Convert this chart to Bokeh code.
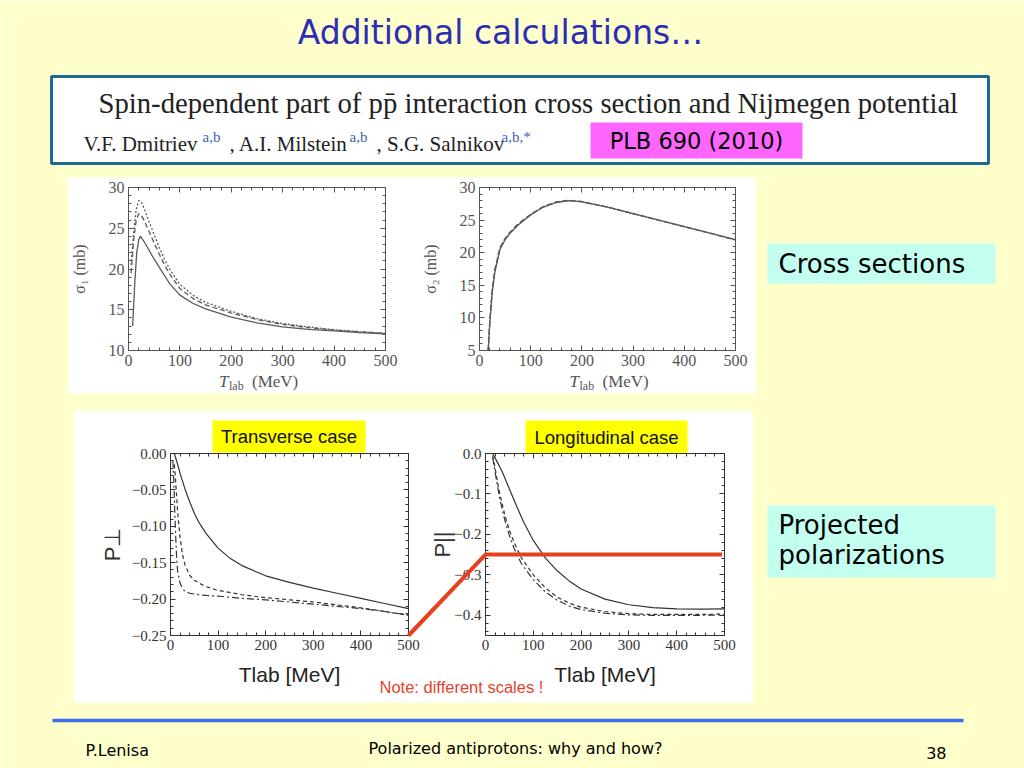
import numpy as np
from bokeh.plotting import figure
from bokeh.models import Range1d, LinearAxis, FixedTicker, CustomJSTickFormatter
from bokeh.core.properties import value
from bokeh.embed import file_html
from bokeh.resources import INLINE

# ---------------- data ----------------
x_ticks = [0, 100, 200, 300, 400, 500]
sig1_yticks = [10, 15, 20, 25, 30]
sig2_yticks = [5, 10, 15, 20, 25, 30]
pt_yticks = [0.0, -0.05, -0.10, -0.15, -0.20, -0.25]
pl_yticks = [0.0, -0.1, -0.2, -0.3, -0.4]

# sigma_1 (mb)
sig1_T_solid = [8, 12, 16, 20, 23, 30, 40, 50, 60, 70, 80, 100, 125, 150, 200, 250, 300, 350, 400, 450, 500]
sig1_solid = [13.0, 18.0, 22.0, 23.6, 24.0, 23.4, 22.3, 21.2, 20.2, 19.2, 18.2, 16.8, 15.8, 15.1, 14.1, 13.4, 12.9, 12.6, 12.4, 12.2, 12.05]
sig1_T = [5, 10, 15, 20, 25, 30, 40, 50, 60, 70, 80, 100, 125, 150, 200, 250, 300, 350, 400, 450, 500]
sig1_dash = [19.5, 23.5, 26.0, 26.8, 26.6, 26.0, 24.6, 23.2, 21.8, 20.5, 19.4, 17.6, 16.4, 15.6, 14.6, 13.8, 13.2, 12.8, 12.5, 12.3, 12.1]
sig1_dot = [20.5, 24.5, 27.3, 28.4, 28.2, 27.5, 25.8, 24.2, 22.6, 21.2, 20.0, 18.1, 16.8, 15.9, 14.8, 13.9, 13.3, 12.9, 12.55, 12.3, 12.1]

# sigma_2 (mb)
sig2_T = [17, 20, 25, 30, 40, 50, 60, 75, 100, 125, 150, 175, 200, 250, 300, 350, 400, 450, 500]
sig2_solid = [5.0, 9.0, 14.0, 17.0, 20.5, 22.0, 23.0, 24.2, 25.8, 27.0, 27.7, 28.0, 27.8, 27.0, 26.0, 25.0, 24.0, 23.0, 22.0]
sig2_dash = [5.0, 9.5, 14.5, 17.5, 20.8, 22.2, 23.2, 24.4, 25.9, 27.1, 27.8, 28.05, 27.85, 27.0, 26.0, 25.0, 24.0, 23.0, 21.95]
sig2_dot = [5.0, 9.3, 14.3, 17.3, 20.7, 22.1, 23.1, 24.3, 25.85, 27.05, 27.75, 28.02, 27.82, 27.0, 26.0, 25.0, 24.0, 23.0, 21.97]

# transverse polarization P_perp
pt_T_solid = [8, 15, 20, 30, 40, 50, 60, 75, 100, 125, 150, 200, 250, 300, 350, 400, 450, 500]
pt_solid = [0.0, -0.015, -0.027, -0.048, -0.066, -0.082, -0.095, -0.110, -0.130, -0.144, -0.154, -0.168, -0.177, -0.185, -0.192, -0.199, -0.206, -0.213]
pt_T_dash = [8, 10, 12, 15, 20, 25, 30, 40, 50, 60, 75, 100, 150, 200, 250, 300, 350, 400, 450, 500]
pt_dash = [-0.015, -0.03, -0.05, -0.08, -0.115, -0.138, -0.152, -0.167, -0.174, -0.178, -0.183, -0.188, -0.194, -0.198, -0.201, -0.204, -0.208, -0.212, -0.217, -0.222]
pt_T_dd = [5, 7, 9, 11, 13, 15, 20, 25, 30, 40, 50, 60, 75, 100, 150, 200, 250, 300, 350, 400, 450, 500]
pt_dd = [-0.01, -0.04, -0.08, -0.115, -0.145, -0.162, -0.178, -0.185, -0.189, -0.192, -0.193, -0.194, -0.195, -0.196, -0.199, -0.201, -0.204, -0.207, -0.210, -0.213, -0.217, -0.222]

# longitudinal polarization P_par
pl_T_solid = [15, 25, 35, 50, 65, 80, 100, 125, 150, 175, 200, 250, 300, 350, 400, 450, 500]
pl_solid = [0.0, -0.022, -0.045, -0.088, -0.130, -0.170, -0.215, -0.258, -0.290, -0.315, -0.335, -0.360, -0.374, -0.381, -0.384, -0.385, -0.384]
pl_T = [15, 20, 25, 30, 40, 50, 60, 75, 100, 125, 150, 175, 200, 250, 300, 350, 400, 450, 500]
pl_dash = [-0.005, -0.035, -0.07, -0.10, -0.15, -0.19, -0.22, -0.258, -0.300, -0.332, -0.355, -0.370, -0.380, -0.391, -0.396, -0.398, -0.398, -0.398, -0.397]
pl_dd = [-0.01, -0.045, -0.08, -0.112, -0.163, -0.203, -0.235, -0.272, -0.312, -0.342, -0.363, -0.377, -0.386, -0.395, -0.399, -0.400, -0.400, -0.400, -0.399]

ref_level = -0.25  # marked level ("different scales")

# ---------------- layout (slide pixel coordinates) ----------------
W, H = 1024, 768
OX, OY = 0, 0

BG = "#FFFFCC"
p = figure(width=W, height=H, x_range=Range1d(OX, OX + W), y_range=Range1d(OY + H, OY),
           x_axis_type=None, y_axis_type=None, toolbar_location=None, output_backend="svg",
           min_border=0, title=None, outline_line_color=None,
           background_fill_color=BG, border_fill_color=BG)


def txt(x, y, s, size, font, color="#000000", align="left", baseline="middle", style="normal"):
    p.text(x=[x], y=[y], text=[s], text_font=value(font), text_font_size=value(size),
           text_color=color, text_align=align, text_baseline=baseline, text_font_style=style)


def box(l, r, t, b, fill, line=None, lw=1):
    p.quad(left=[l], right=[r], top=[t], bottom=[b], fill_color=fill,
           line_color=line, line_width=lw)


COMIC = "DejaVu Sans"
SERIF = "Liberation Serif"
SANS = "Liberation Sans"

# title
txt(500, 32, "Additional calculations\u2026", "33px", COMIC, "#2D2DB4", align="center")

# paper header
box(51, 988, 76, 163, "white", "#1B6A98", 3)
txt(98, 102, "Spin-dependent part of p\u0070\u0304 interaction cross section and Nijmegen potential",
    "28.7px", SERIF, "#222222")
authors = [(83, "V.F. Dmitriev", False), (202, "a,b", True), (229, ", A.I. Milstein", False),
           (349, "a,b", True), (376, ", S.G. Salnikov", False), (501, "a,b,*", True)]
for ax_, s, sup in authors:
    if sup:
        txt(ax_, 136, s, "15px", SERIF, "#3A64B0")
    else:
        txt(ax_, 143, s, "21px", SERIF, "#222222")
box(590, 802, 122, 158, "#FF66FF")
txt(696, 140, "PLB 690 (2010)", "22.5px", COMIC, "#000000", align="center")

# white panels
box(68, 755, 177, 393, "white")
box(73, 752, 410, 702, "white")

# right-hand labels
box(767, 995, 243, 283, "#C2FFF0")
txt(778, 263, "Cross sections", "26px", COMIC)
box(767, 995, 505, 577, "#C2FFF0")
txt(778, 524, "Projected", "26px", COMIC)
txt(778, 554, "polarizations", "26px", COMIC)

# footer
p.segment(x0=[52], y0=[720], x1=[963], y1=[720], line_color="#3A6FE8", line_width=3.5)
txt(85, 750, "P.Lenisa", "16px", COMIC)
txt(515, 748, "Polarized antiprotons: why and how?", "16px", COMIC, align="center")
txt(946, 752, "38", "16px", COMIC, align="right")

# ---------------- subplots ----------------
S1 = dict(name="s1", box=(128, 385, 187, 350), xlim=(0, 500), ylim=(10, 30))
S2 = dict(name="s2", box=(479, 735, 187, 350), xlim=(0, 500), ylim=(5, 30))
P1 = dict(name="p1", box=(170, 408, 453, 635), xlim=(0, 500), ylim=(-0.25, 0.0))
P2 = dict(name="p2", box=(485, 724, 453, 635), xlim=(0, 500), ylim=(-0.45, 0.0))

extra_x, extra_y = {}, {}
for S in (S1, S2, P1, P2):
    L, R, T, B = S["box"]
    x0, x1 = S["xlim"]
    y0, y1 = S["ylim"]
    kx = (x1 - x0) / (R - L)
    ky = (y1 - y0) / (B - T)
    extra_x[S["name"] + "x"] = Range1d(x0 - (L - OX) * kx, x0 + (OX + W - L) * kx)
    extra_y[S["name"] + "y"] = Range1d(y0 - (OY + H - B) * ky, y1 + (T - OY) * ky)
p.extra_x_ranges = extra_x
p.extra_y_ranges = extra_y


def to_slide(S, x, y):
    L, R, T, B = S["box"]
    x0, x1 = S["xlim"]
    y0, y1 = S["ylim"]
    return L + (x - x0) / (x1 - x0) * (R - L), B - (y - y0) / (y1 - y0) * (B - T)


def minors(lo, hi, step):
    n = int(round((hi - lo) / step))
    return [lo + i * step for i in range(n + 1)]


EMPTY = "return '';"


def frame(S, yticks, yminor, yfmt, color, font, size, ylabel, ylabel_font, ylabel_size,
          ylabel_standoff, xlabel=None, xlabel_standoff=10):
    nm = S["name"]
    x0, x1 = S["xlim"]
    y0, y1 = S["ylim"]
    common = dict(x_range_name=nm + "x", y_range_name=nm + "y",
                  axis_line_color=color, axis_line_width=1,
                  major_tick_line_color=color, minor_tick_line_color=color,
                  major_tick_in=5, major_tick_out=0, minor_tick_in=3, minor_tick_out=0,
                  major_label_text_font=font, major_label_text_font_size=size,
                  major_label_text_color=color, major_label_standoff=4)
    xmin = minors(x0, x1, 20)
    # left
    ax = LinearAxis(fixed_location=x0, bounds=(y0, y1),
                    ticker=FixedTicker(ticks=yticks, minor_ticks=yminor),
                    formatter=yfmt, axis_label=ylabel,
                    axis_label_text_font=ylabel_font, axis_label_text_font_size=ylabel_size,
                    axis_label_text_font_style="normal", axis_label_text_color=color,
                    axis_label_standoff=ylabel_standoff, **common)
    p.add_layout(ax, "left")
    # right
    ax = LinearAxis(fixed_location=x1, bounds=(y0, y1),
                    ticker=FixedTicker(ticks=yticks, minor_ticks=yminor),
                    formatter=CustomJSTickFormatter(code=EMPTY), **common)
    p.add_layout(ax, "right")
    # bottom
    kw = {}
    if xlabel:
        kw = dict(axis_label=xlabel, axis_label_text_font=SANS, axis_label_text_font_size="21px",
                  axis_label_text_font_style="normal", axis_label_text_color="#222222",
                  axis_label_standoff=xlabel_standoff)
    ax = LinearAxis(fixed_location=y0, bounds=(x0, x1),
                    ticker=FixedTicker(ticks=x_ticks, minor_ticks=xmin), **kw, **common)
    p.add_layout(ax, "below")
    # top
    ax = LinearAxis(fixed_location=y1, bounds=(x0, x1),
                    ticker=FixedTicker(ticks=x_ticks, minor_ticks=xmin),
                    formatter=CustomJSTickFormatter(code=EMPTY), **common)
    p.add_layout(ax, "above")


def curve(S, xs, ys, color, dash="solid", width=1.3):
    p.line(x=xs, y=ys, x_range_name=S["name"] + "x", y_range_name=S["name"] + "y",
           line_color=color, line_width=width, line_dash=dash)


GREY = "#5A5A5A"
DARK = "#333333"

# sigma_1
curve(S1, sig1_T, sig1_dot, GREY, "2 2")
curve(S1, sig1_T, sig1_dash, GREY, "5 3")
curve(S1, sig1_T_solid, sig1_solid, GREY)
frame(S1, sig1_yticks, minors(10, 30, 1), CustomJSTickFormatter(code="return tick.toFixed(0);"),
      "#555555", SERIF, "16px", "\u03c3\u2081 (mb)", SERIF, "16px", 18)
# sigma_2
curve(S2, sig2_T, sig2_dot, GREY, "2 2")
curve(S2, sig2_T, sig2_dash, GREY, "5 3")
curve(S2, sig2_T, sig2_solid, GREY)
frame(S2, sig2_yticks, minors(5, 30, 1), CustomJSTickFormatter(code="return tick.toFixed(0);"),
      "#555555", SERIF, "16px", "\u03c3\u2082 (mb)", SERIF, "16px", 18)

# T_lab labels for the cross-section plots
for S in (S1, S2):
    L, R, T, B = S["box"]
    c = (L + R) / 2
    txt(c - 38, 381, "T", "17px", SERIF, "#555555", style="italic")
    txt(c - 28, 385, "lab", "12px", SERIF, "#555555")
    txt(c - 5, 381, "(MeV)", "17px", SERIF, "#555555")

fmt2 = CustomJSTickFormatter(code="return (tick < -1e-9 ? '\u2212' : '') + Math.abs(tick).toFixed(2);")
fmt1 = CustomJSTickFormatter(code="return (tick < -1e-9 ? '\u2212' : '') + Math.abs(tick).toFixed(1);")

# transverse
curve(P1, pt_T_dd, pt_dd, DARK, "7 3 2 3", 1.2)
curve(P1, pt_T_dash, pt_dash, DARK, "4 3", 1.2)
curve(P1, pt_T_solid, pt_solid, DARK, "solid", 1.2)
frame(P1, pt_yticks, minors(-0.25, 0.0, 0.01), fmt2, DARK, SERIF, "15px",
      "P\u22a5", SANS, "22px", 4, xlabel="Tlab [MeV]", xlabel_standoff=10)
# longitudinal
curve(P2, pl_T, pl_dd, DARK, "7 3 2 3", 1.2)
curve(P2, pl_T, pl_dash, DARK, "4 3", 1.2)
curve(P2, pl_T_solid, pl_solid, DARK, "solid", 1.2)
frame(P2, pl_yticks, minors(-0.44, 0.0, 0.02), fmt1, DARK, SERIF, "15px",
      "P||", SANS, "22px", -4, xlabel="Tlab [MeV]", xlabel_standoff=10)

# case labels
box(212, 365, 420, 452, "#FFFF00")
txt(288.5, 436, "Transverse case", "18.5px", SANS, "#111111", align="center")
box(525, 687, 420, 453, "#FFFF00")
txt(606, 437, "Longitudinal case", "18.5px", SANS, "#111111", align="center")

# red connector marking the same level in both scales
a = to_slide(P1, P1["xlim"][1], ref_level)
b = to_slide(P2, P2["xlim"][0], ref_level)
c = to_slide(P2, 495, ref_level)
red = p.line(x=[a[0], b[0], c[0]], y=[a[1], b[1], c[1]], line_color="#E8401C", line_width=4)
red.level = "overlay"
txt(379, 686, "Note: different scales !", "16.5px", SANS, "#E2442A")

open("out.html", "w").write(file_html(p, INLINE))
